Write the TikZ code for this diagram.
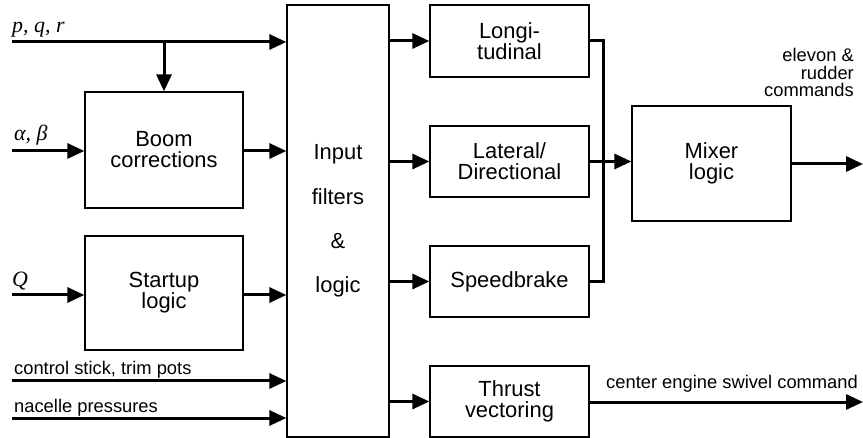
\documentclass[tikz,border=0pt]{standalone}
\usepackage{fontspec}
\setmainfont{Liberation Sans}
\newfontfamily\symfont{Liberation Serif}
\usetikzlibrary{arrows.meta}
\newcommand\boxfont{\fontsize{22}{21}\selectfont}
\newcommand\labfont{\fontsize{18.4}{18}\selectfont}
\tikzset{
  block/.style={draw, line width=1.3bp, inner sep=0pt, align=center, font=\boxfont},
  sig/.style={line width=3bp, -{Triangle[length=17bp,width=15bp]}},
  wire/.style={line width=3bp, line join=miter},
  lbl/.style={inner sep=0pt, font=\labfont},
  var/.style={inner sep=0pt, font=\fontsize{22}{22}\selectfont\symfont\itshape}
}
\begin{document}
\begin{tikzpicture}[x=1bp,y=-1bp]
\useasboundingbox (0,0) rectangle (863,438);
\node[block, minimum width=158bp, minimum height=116bp] (boom) at (164,150) {Boom\\corrections};
\node[block, minimum width=158bp, minimum height=114bp] (startup) at (164,293) {Startup\\logic};
\node[block, minimum width=102bp, minimum height=432bp, font=\fontsize{22}{44.5}\selectfont] (input) at (338,221) {Input\\filters\\\&\\logic};
\node[block, minimum width=159bp, minimum height=72bp] (longi) at (509.5,41) {Longi-\\tudinal};
\node[block, minimum width=159bp, minimum height=71bp] (lateral) at (509.5,161.5) {Lateral/\\Directional};
\node[block, minimum width=159bp, minimum height=71bp] (speed) at (509.5,281.5) {Speedbrake};
\node[block, minimum width=159bp, minimum height=71bp] (thrust) at (509.5,401.5) {Thrust\\vectoring};
\node[block, minimum width=159bp, minimum height=115bp] (mixer) at (711.5,163.5) {Mixer\\logic};

% inputs
\coordinate (pqr) at (12,42);
\coordinate (ab) at (12,151);
\coordinate (q) at (12,295);
\coordinate (stick) at (12,381);
\coordinate (nacelle) at (12,418);
\coordinate (tap) at (boom.north |- pqr);
\node[var, anchor=base west] (pqrlbl) at (12,33) {p, q, r};
\node[var, anchor=base west] (ablbl) at (14,141) {α, β};
\node[var, anchor=base west] (qlbl) at (12,287) {Q};
\node[lbl, anchor=base west] (sticklbl) at (14,375) {control stick, trim pots};
\node[lbl, anchor=base west] (nacellelbl) at (14,412) {nacelle pressures};

\draw[sig] (pqr) -- (pqr -| input.west);
\draw[sig] (tap) -- (boom.north);
\draw[sig] (ab) -- (ab -| boom.west);
\draw[sig] (boom.east |- ab) -- (ab -| input.west);
\draw[sig] (q) -- (q -| startup.west);
\draw[sig] (startup.east |- q) -- (q -| input.west);
\draw[sig] (stick) -- (stick -| input.west);
\draw[sig] (nacelle) -- (nacelle -| input.west);

% to the control laws
\foreach \b in {longi,lateral,speed,thrust}
  \draw[sig] (input.east |- \b.west) -- (\b.west);

% mixing
\coordinate (bus) at (603,0);
\draw[wire] (longi.east) -- (longi.east -| bus) -- (speed.east -| bus) -- (speed.east);
\draw[sig] (lateral.east) -- (lateral.east -| mixer.west);
\coordinate (cmd) at (863,164);
\coordinate (swivel) at (863,402);
\draw[sig] (mixer.east |- cmd) -- (cmd);
\draw[sig] (thrust.east |- swivel) -- (swivel);
\node[lbl, anchor=base east, align=right] (cmdlbl) at (854,97) {elevon \&\\rudder\\commands};
\node[lbl, anchor=base west] (swivellbl) at (606,388) {center engine swivel command};
\end{tikzpicture}
\end{document}
